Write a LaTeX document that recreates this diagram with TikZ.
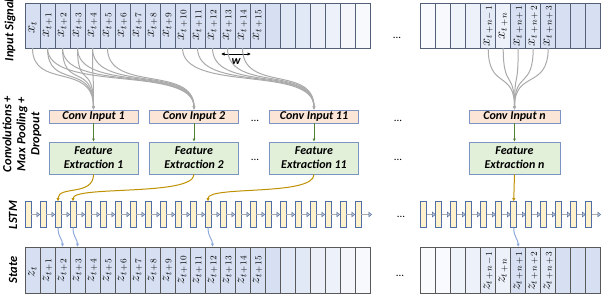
\documentclass[tikz,border=0pt]{standalone}
\usepackage{fontspec}
\setmainfont{Carlito}
\usetikzlibrary{arrows.meta,calc}
\definecolor{cellblue}{RGB}{214,224,242}
\definecolor{inborder}{RGB}{84,96,120}
\definecolor{stborder}{RGB}{89,89,89}
\definecolor{convfill}{RGB}{251,229,214}
\definecolor{boxborder}{RGB}{124,148,196}
\definecolor{fefill}{RGB}{226,240,217}
\definecolor{lstmfill}{RGB}{255,242,204}
\definecolor{lstmborder}{RGB}{79,110,168}
\definecolor{goldc}{RGB}{191,144,0}
\definecolor{arrgreen}{RGB}{84,130,53}
\definecolor{arrblue}{RGB}{143,170,220}
\definecolor{linegray}{RGB}{170,170,170}
\newcommand\xplus{\mskip2mu+\mskip2mu}
\newcommand\xminus{\mskip2mu-\mskip2mu}
\begin{document}
\begin{tikzpicture}[x=1pt,y=-1pt,
  cellin/.style={draw=inborder,line width=0.7pt,minimum width=15pt,minimum height=45pt,inner sep=0pt,outer sep=0pt},
  cellst/.style={draw=stborder,line width=0.7pt,minimum width=15pt,minimum height=46pt,inner sep=0pt,outer sep=0pt},
  lab/.style={rotate=90,inner sep=0pt,font=\fontsize{13.5}{13.5}\selectfont,text=black},
  conv/.style={draw=boxborder,fill=convfill,line width=0.7pt,minimum width=89pt,minimum height=13pt,inner sep=0pt,font=\fontsize{12}{13}\selectfont\bfseries\itshape},
  fe/.style={draw=boxborder,fill=fefill,line width=0.7pt,minimum width=89pt,minimum height=32pt,inner sep=0pt,align=center,font=\fontsize{12}{14}\selectfont\bfseries\itshape},
  lstm/.style={draw=lstmborder,fill=lstmfill,line width=0.7pt,minimum width=6pt,minimum height=26pt,inner sep=0pt,outer sep=0pt},
  lstmarr/.style={draw=linegray,line width=1.6pt,-{Triangle[length=3.5pt,width=5.5pt,fill=linegray!60,color=lstmborder,line width=0.5pt]}},
  feed/.style={draw=linegray,line width=1pt,-{Latex[length=3pt,width=3pt]}},
  greenarr/.style={draw=arrgreen,line width=1pt,-{Latex[length=3pt,width=3pt]}},
  goldarr/.style={draw=goldc,line width=1pt,-{Latex[length=3.5pt,width=3.5pt]}},
  bluearr/.style={draw=arrblue,line width=1pt,-{Latex[length=3.5pt,width=3.5pt]}},
  sidelab/.style={rotate=90,font=\fontsize{12.5}{14}\selectfont\bfseries\itshape,align=center,inner sep=0pt},
  dots/.style={font=\fontsize{11}{11}\selectfont,inner sep=0pt,anchor=base}
]
\useasboundingbox (0,0) rectangle (612,306);

% ---------- input signal bars ----------
\foreach \i/\p in {0/100,1/100,2/100,3/100,4/100,5/100,6/100,7/100,8/100,9/100,10/100,11/100,12/100,13/100,14/100,15/100,16/100,17/75,18/70,19/50,20/45,21/28,22/20}
  \node[cellin,fill=cellblue!\p] (in\i) at (32.5+15*\i,25.5) {};
\foreach \i/\p in {0/15,1/18,2/40,3/45,4/65,5/45,6/100,7/70,8/100,9/100,10/100,11/100}
  \node[cellin,fill=cellblue!\p] (rn\i) at (428.2+15*\i,25.5) {};

\node[lab] (lx0) at (32.5,28) {$x_t$};
\foreach \i in {1,...,15}
  \node[lab] (lx\i) at (32.5+15*\i,25) {$x_{t\xplus\i}$};
\node[lab] (rx4) at (rn4 |- 0,26) {$x_{t\xplus n\xminus 1}$};
\node[lab] (rx5) at (rn5 |- 0,26) {$x_{t\xplus n}$};
\node[lab] (rx6) at (rn6 |- 0,26) {$x_{t\xplus n\xplus 1}$};
\node[lab] (rx7) at (rn7 |- 0,26) {$x_{t\xplus n\xplus 2}$};
\node[lab] (rx8) at (rn8 |- 0,26) {$x_{t\xplus n\xplus 3}$};

% window w
\coordinate (w1) at (221,54);
\coordinate (w2) at (251,54);
\draw[line width=0.9pt,{Latex[length=3.5pt,width=3.5pt]}-{Latex[length=3.5pt,width=3.5pt]}] (w1) -- (w2);
\node[font=\fontsize{12}{12}\selectfont\bfseries\itshape,inner sep=0pt] (wl) at (236,62) {w};

% ---------- conv boxes ----------
\node[conv] (ci1) at (93.5,116.5) {Conv Input 1};
\node[conv] (ci2) at (194,116.5) {Conv Input 2};
\node[conv] (ci11) at (314,116.5) {Conv Input 11};
\node[conv,minimum width=91pt] (cin) at (514.5,116.5) {Conv Input n};

\node[fe] (fe1) at (93.5,158) {Feature\\Extraction 1};
\node[fe] (fe2) at (194,158) {Feature\\Extraction 2};
\node[fe] (fe11) at (314,158) {Feature\\Extraction 11};
\node[fe,minimum width=91pt] (fen) at (514.5,158) {Feature\\Extraction n};

\foreach \a/\b in {ci1/fe1,ci2/fe2,ci11/fe11,cin/fen}
  \draw[greenarr] (\a.south) -- (\b.north);

% feed lines
\foreach \i in {0,...,4}
  \draw[feed] (in\i.south) .. controls +(0,42) and +(0,-48) .. (ci1.north);
\foreach \i in {1,...,5}
  \draw[feed] (in\i.south) .. controls +(0,45) and +(0,-45) .. (ci2.north);
\foreach \i in {10,...,14}
  \draw[feed] (in\i.south) .. controls +(0,45) and +(0,-45) .. (ci11.north);
\foreach \i in {4,...,8}
  \draw[feed] (rn\i.south) .. controls +(0,42) and +(0,-40) .. (cin.north);

% dots
\node[dots] (d1) at (255,121) {...};
\node[dots] (d2) at (255,160) {...};
\node[dots] (d3) at (398,121) {...};
\node[dots] (d4) at (398,160) {...};
\node[dots] (d5) at (397,38) {...};
\node[dots] (d6) at (401,217) {...};
\node[dots] (d7) at (400,276) {...};

% ---------- LSTM ----------
\foreach \i in {0,...,22}
  \node[lstm] (l\i) at (28+15*\i,214.5) {};
\foreach \i in {0,...,11}
  \node[lstm] (r\i) at (423.7+15*\i,214.5) {};
\foreach \i [evaluate=\i as \j using int(\i+1)] in {0,...,21}
  \draw[lstmarr] (l\i.east) -- (l\j.west);
\foreach \i [evaluate=\i as \j using int(\i+1)] in {0,...,10}
  \draw[lstmarr] (r\i.east) -- (r\j.west);
\coordinate (lend) at (372,214.5);
\coordinate (rend) at (601,214.5);
\draw[lstmarr] (l22.east) -- (lend);
\draw[lstmarr] (r11.east) -- (rend);

% ---------- state bars ----------
\foreach \i/\p in {0/100,1/100,2/100,3/100,4/100,5/100,6/100,7/100,8/100,9/100,10/100,11/100,12/100,13/100,14/100,15/100,16/100,17/75,18/70,19/50,20/45,21/28,22/20}
  \node[cellst,fill=cellblue!\p] (st\i) at (32.5+15*\i,270) {};
\foreach \i/\p in {0/12,1/15,2/40,3/45,4/65,5/45,6/100,7/70,8/75,9/100,10/100,11/100}
  \node[cellst,fill=cellblue!\p] (rs\i) at (428.2+15*\i,270) {};

\node[lab] (lz0) at (32.5,272) {$z_t$};
\foreach \i in {1,...,15}
  \node[lab] (lz\i) at (32.5+15*\i,270) {$z_{t\xplus\i}$};
\node[lab] (rz4) at (rs4 |- 0,271) {$z_{t\xplus n\xminus 1}$};
\node[lab] (rz5) at (rs5 |- 0,271) {$z_{t\xplus n}$};
\node[lab] (rz6) at (rs6 |- 0,271) {$z_{t\xplus n\xplus 1}$};
\node[lab] (rz7) at (rs7 |- 0,271) {$z_{t\xplus n\xplus 2}$};
\node[lab] (rz8) at (rs8 |- 0,271) {$z_{t\xplus n\xplus 3}$};

% ---------- feature -> LSTM ----------
\draw[goldarr] (fe1.south) .. controls +(0,22) and +(0,-16) .. (l2.north);
\draw[goldarr] (fe2.south) .. controls +(0,22) and +(0,-16) .. (l3.north);
\draw[goldarr] (fe11.south) .. controls +(0,22) and +(0,-16) .. (l12.north);
\draw[goldarr] (fen.south) -- (r6.north);

% ---------- LSTM -> state ----------
\draw[bluearr] (l2.south) .. controls +(0,10) and +(0,-8) .. (st2.north);
\draw[bluearr] (l3.south) .. controls +(0,10) and +(0,-8) .. (st3.north);
\draw[bluearr] (l12.south) .. controls +(0,10) and +(0,-8) .. (st12.north);
\draw[bluearr] (r6.south) .. controls +(0,10) and +(0,-8) .. (rs6.north);

% ---------- side labels ----------
\node[sidelab] (sl1) at (10,30) {Input Signal};
\node[sidelab] (sl2) at (22,134) {Convolutions +\\Max Pooling +\\Dropout};
\node[sidelab] (sl3) at (13,215) {LSTM};
\node[sidelab] (sl4) at (13,270) {State};
\end{tikzpicture}
\end{document}
